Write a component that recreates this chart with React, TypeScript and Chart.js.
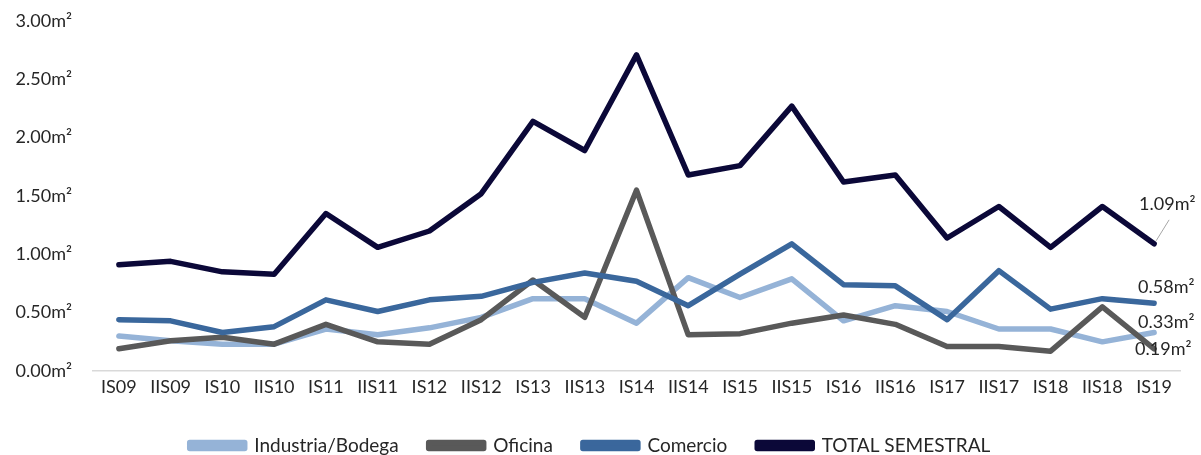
import React, { useEffect, useRef } from "react";
import { Chart, registerables } from "chart.js";

Chart.register(...registerables);

const categories = ["IS09","IIS09","IS10","IIS10","IS11","IIS11","IS12","IIS12","IS13","IIS13","IS14","IIS14","IS15","IIS15","IS16","IIS16","IS17","IIS17","IS18","IIS18","IS19"];
const industria = [0.30,0.26,0.23,0.23,0.36,0.31,0.37,0.46,0.62,0.62,0.41,0.80,0.63,0.79,0.43,0.56,0.51,0.36,0.36,0.25,0.33];
const oficina = [0.19,0.26,0.29,0.23,0.40,0.25,0.23,0.44,0.78,0.46,1.55,0.31,0.32,0.41,0.48,0.40,0.21,0.21,0.17,0.55,0.19];
const comercio = [0.44,0.43,0.33,0.38,0.61,0.51,0.61,0.64,0.76,0.84,0.77,0.56,0.83,1.09,0.74,0.73,0.44,0.86,0.53,0.62,0.58];
const total = [0.91,0.94,0.85,0.83,1.35,1.06,1.20,1.52,2.14,1.89,2.71,1.68,1.76,2.27,1.62,1.68,1.14,1.41,1.06,1.41,1.09];
const yTicks = [0, 0.5, 1, 1.5, 2, 2.5, 3];

const FONT = "Lato, 'Open Sans', sans-serif";
const FS = 18;
const LEGEND_FS = 19;
const CANVAS_H = 465;

const endLabels = {
  id: "endLabels",
  afterDatasetsDraw(chart: any) {
    const ctx = chart.ctx;
    const cfg: Record<number, { dy: number; dx: number; leader?: boolean }> = {
      0: { dx: -16, dy: -10 },
      1: { dx: -19, dy: 0 },
      2: { dx: -16, dy: -16 },
      3: { dx: -15, dy: -40, leader: true },
    };
    ctx.save();
    chart.data.datasets.forEach((ds: any, i: number) => {
      const meta = chart.getDatasetMeta(i);
      const pt = meta.data[meta.data.length - 1];
      if (!pt) return;
      const v = ds.data[ds.data.length - 1];
      const c = cfg[i];
      if (c.leader) {
        ctx.strokeStyle = "#a6a6a6";
        ctx.lineWidth = 1;
        ctx.beginPath();
        ctx.moveTo(pt.x + 2, pt.y - 3);
        ctx.lineTo(pt.x + 15, pt.y - 24);
        ctx.stroke();
      }
      ctx.fillStyle = "#262626";
      ctx.font = `${FS}px ${FONT}`;
      ctx.textAlign = "left";
      ctx.textBaseline = "middle";
      ctx.fillText(v.toFixed(2) + "m²", pt.x + c.dx, pt.y + c.dy);
    });
    ctx.restore();
  },
};

export default function App() {
  const ref = useRef<HTMLCanvasElement>(null);
  useEffect(() => {
    const mk = (label: string, data: number[], color: string, order: number) => ({
      label,
      data,
      order,
      borderColor: color,
      backgroundColor: color,
      borderWidth: 5.5,
      pointRadius: 0,
      tension: 0,
      borderJoinStyle: "round" as const,
      borderCapStyle: "round" as const,
    });
    const chart = new Chart(ref.current!, {
      type: "line",
      data: {
        labels: categories,
        datasets: [
          mk("Industria/Bodega", industria, "#95B3D7", 4),
          mk("Oficina", oficina, "#595959", 3),
          mk("Comercio", comercio, "#3A679C", 2),
          mk("TOTAL SEMESTRAL", total, "#0B0838", 1),
        ],
      },
      options: {
        animation: false,
        responsive: false,
        maintainAspectRatio: false,
        layout: { padding: { left: 0, right: 21, top: 21, bottom: 0 } },
        plugins: {
          legend: {
            position: "bottom",
            labels: {
              boxWidth: 55,
              boxHeight: 6,
              padding: 30,
              color: "#262626",
              font: { family: FONT, size: LEGEND_FS },
              sort: (a: any, b: any) => a.datasetIndex - b.datasetIndex,
            },
          },
          tooltip: { enabled: false },
        },
        scales: {
          x: {
            offset: true,
            grid: { display: false, drawTicks: false },
            border: { display: true, color: "#d9d9d9", width: 1.5 },
            afterFit: (s: any) => { s.height = 35; },
            ticks: { color: "#262626", font: { family: FONT, size: FS }, padding: 5, maxRotation: 0, autoSkip: false },
          },
          y: {
            min: 0,
            max: 3,
            afterBuildTicks: (s: any) => { s.ticks = yTicks.map((v) => ({ value: v })); },
            afterFit: (s: any) => { s.width = 93; s.paddingTop = 0; s.paddingBottom = 0; },
            grid: { display: false, drawTicks: false },
            border: { display: false },
            ticks: {
              color: "#262626",
              font: { family: FONT, size: FS },
              padding: 21,
              callback: (v: any) => Number(v).toFixed(2) + "m²",
            },
          },
        },
      },
      plugins: [endLabels],
    });
    return () => chart.destroy();
  }, []);
  return (
    <div style={{ position: "fixed", left: 0, top: 0, width: 1201, height: 455, overflow: "hidden", background: "#fff" }}>
      <canvas ref={ref} width={1201} height={CANVAS_H} style={{ width: 1201, height: CANVAS_H, display: "block" }} />
    </div>
  );
}
